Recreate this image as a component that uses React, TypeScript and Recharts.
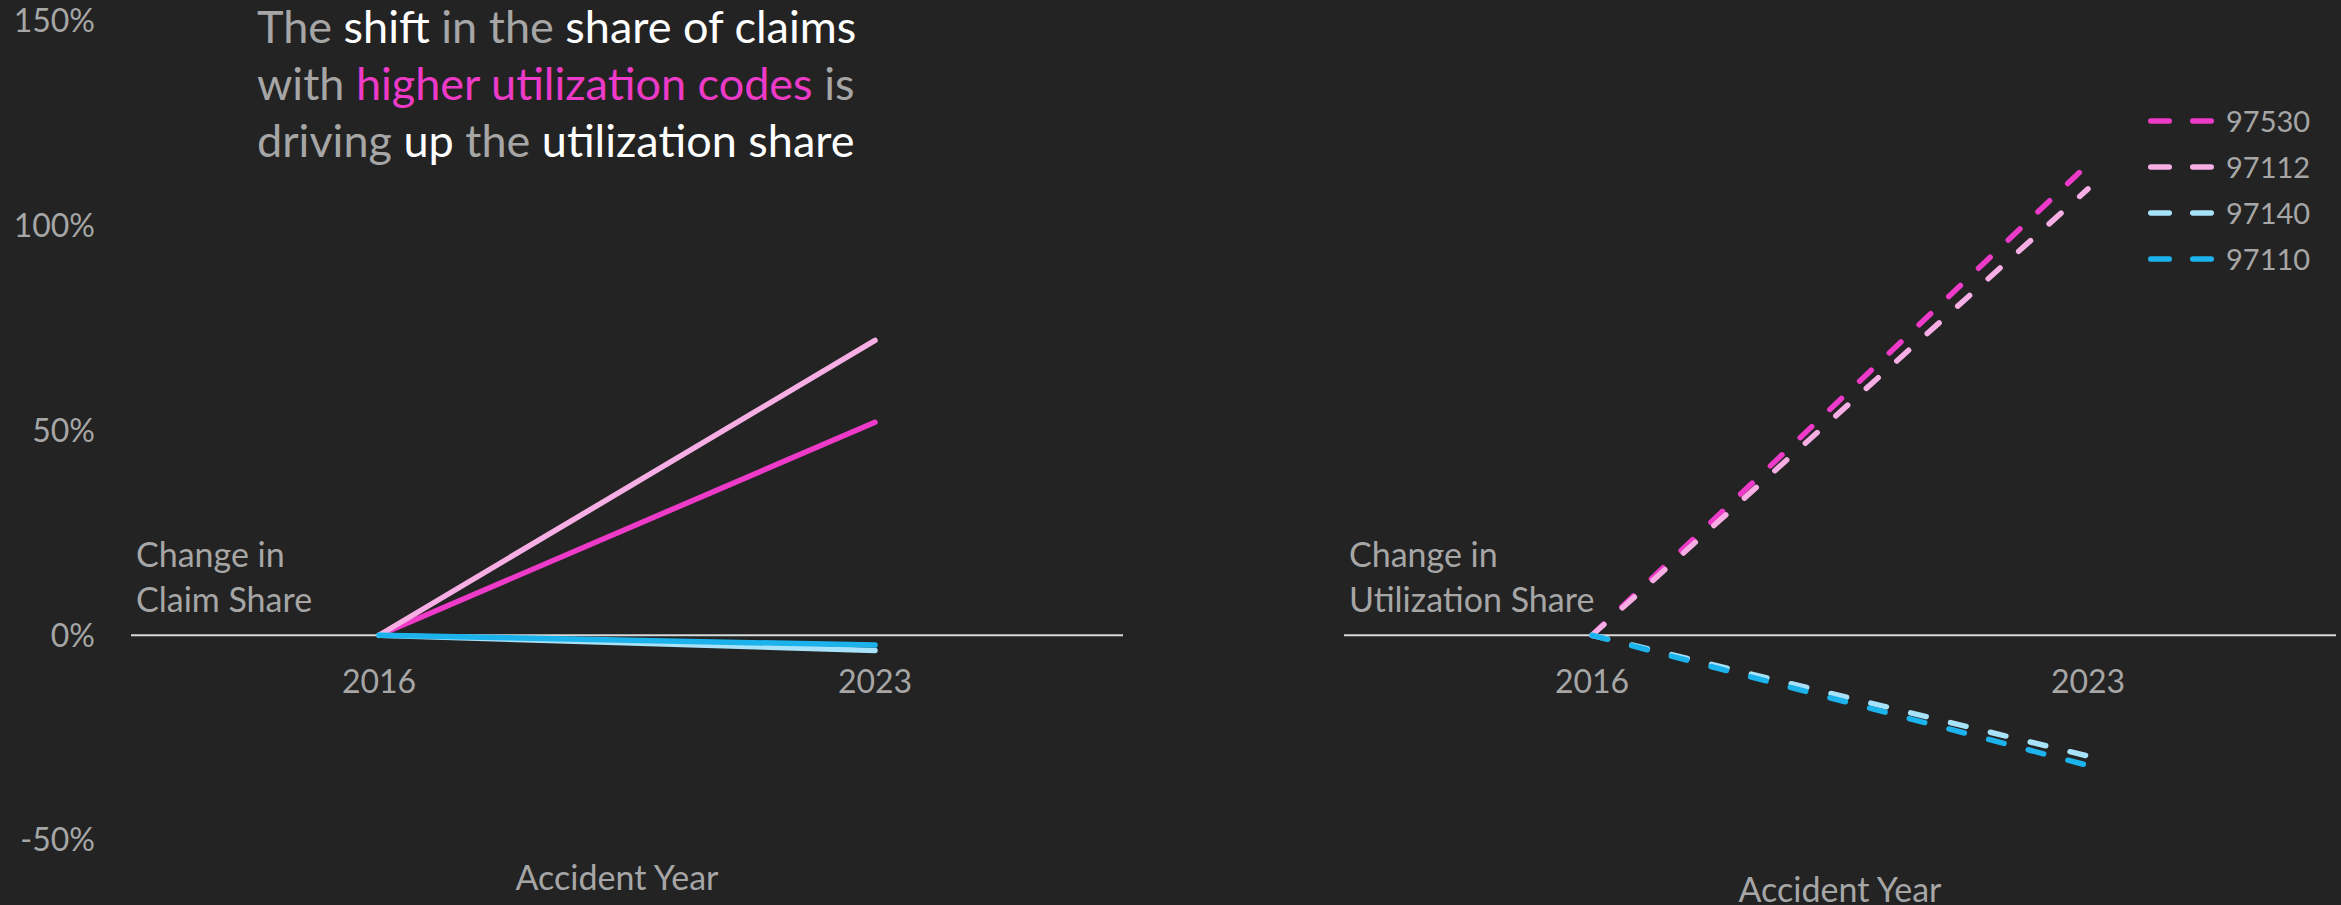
import React from 'react';
import { LineChart, Line, XAxis, YAxis, ReferenceLine, ReferenceDot, Legend, Label } from 'recharts';

// ---- data ----
const years = ['2016', '2023'];
const codes = ['97530', '97112', '97140', '97110'];

const claim97530 = [0, 52];
const claim97112 = [0, 72];
const claim97140 = [0, -3.7];
const claim97110 = [0, -2.4];

const util97530 = [0, 115];
const util97112 = [0, 109];
const util97140 = [0, -29.5];
const util97110 = [0, -31.8];

const yTicks = [-50, 0, 50, 100, 150];

const claimData = years.map((year, i) => ({
  year,
  '97530': claim97530[i],
  '97112': claim97112[i],
  '97140': claim97140[i],
  '97110': claim97110[i],
}));

const utilData = years.map((year, i) => ({
  year,
  '97530': util97530[i],
  '97112': util97112[i],
  '97140': util97140[i],
  '97110': util97110[i],
}));

// ---- styles ----
const FONT = "Lato, 'Open Sans', sans-serif";
const GRAY = '#A6A6A6';
const WHITE = '#FFFFFF';
const BG = '#232323';
const COLORS: Record<string, string> = {
  '97530': '#EE3AC8',
  '97112': '#F7AEE4',
  '97140': '#A8E2F8',
  '97110': '#1CB3EC',
};
const WORD_FS = 34;
const NUM_FS = 32;
const LEGEND_FS = 29;
const TITLE_FS = 45;

const pct = (v: number) => `${v}%`;

const yearLabel = (year: string) => (p: any) => {
  const vb = p.viewBox || {};
  const cx = (vb.x || 0) + (vb.width || 0) / 2;
  const cy = (vb.y || 0) + (vb.height || 0) / 2;
  return (
    <text x={cx} y={cy + 58} textAnchor="middle" fill={GRAY} fontSize={NUM_FS} fontFamily={FONT}>
      {year}
    </text>
  );
};

const zeroLabel = (l1: string, l2: string) => (p: any) => {
  const vb = p.viewBox || {};
  const x = (vb.x || 0) + 5;
  const y = vb.y || 0;
  return (
    <g>
      <text x={x} y={y - 68} fill={GRAY} fontSize={WORD_FS} fontFamily={FONT}>{l1}</text>
      <text x={x} y={y - 23} fill={GRAY} fontSize={WORD_FS} fontFamily={FONT}>{l2}</text>
    </g>
  );
};

const axisTitle = (dx: number, fromBottom: number) => (p: any) => {
  const vb = p.viewBox || {};
  return (
    <text
      x={(vb.x || 0) + (vb.width || 0) / 2 + dx}
      y={(vb.y || 0) + (vb.height || 0) - fromBottom}
      textAnchor="middle"
      fill={GRAY}
      fontSize={WORD_FS}
      fontFamily={FONT}
    >
      Accident Year
    </text>
  );
};

const renderLegend = () => (
  <div style={{ position: 'absolute', left: 0, top: 0, width: 220, whiteSpace: 'nowrap', fontFamily: FONT }}>
    {codes.map((c) => (
      <div key={c} style={{ display: 'flex', alignItems: 'center', height: 46 }}>
        <svg width={66} height={10} style={{ display: 'block', flexShrink: 0 }}>
          <line x1={2.75} y1={5} x2={63.25} y2={5} stroke={COLORS[c]} strokeWidth={5.5} strokeDasharray="18.5 23.5" strokeLinecap="round" />
        </svg>
        <span style={{ marginLeft: 12, fontSize: LEGEND_FS, color: GRAY, lineHeight: '46px' }}>{c}</span>
      </div>
    ))}
  </div>
);

export default function App() {
  return (
    <div style={{ position: 'absolute', left: 0, top: 0, width: 2341, height: 905, background: BG, overflow: 'hidden', fontFamily: FONT }}>
      <div style={{ position: 'absolute', left: 0, top: 0 }}>
        <LineChart width={1130} height={905} data={claimData} margin={{ top: 21, right: 7, bottom: 0, left: 0 }}>
          <XAxis dataKey="year" type="category" padding={{ left: 248, right: 248 }} axisLine={false} tickLine={false} tick={false} height={65}>
            <Label content={axisTitle(-10, 15)} />
          </XAxis>
          <YAxis
            type="number"
            domain={[-50, 150]}
            ticks={yTicks}
            interval={0}
            tickFormatter={pct}
            axisLine={false}
            tickLine={false}
            tickSize={0}
            tickMargin={36}
            width={131}
            tick={{ fill: GRAY, fontSize: NUM_FS, fontFamily: FONT }}
          />
          <ReferenceLine y={0} stroke="#D9D9D9" strokeWidth={2} label={zeroLabel('Change in', 'Claim Share')} />
          {years.map((y) => (
            <ReferenceDot key={y} x={y} y={0} r={0} fill="none" stroke="none" label={yearLabel(y)} />
          ))}
          {codes.map((c) => (
            <Line key={c} type="linear" dataKey={c} stroke={COLORS[c]} strokeWidth={5.5} strokeLinecap="round" dot={false} activeDot={false} isAnimationActive={false} />
          ))}
        </LineChart>
      </div>

      <div style={{ position: 'absolute', left: 1300, top: 0 }}>
        <LineChart width={1041} height={905} data={utilData} margin={{ top: 21, right: 5, bottom: 0, left: 44 }}>
          <XAxis dataKey="year" type="category" padding={{ left: 248, right: 248 }} axisLine={false} tickLine={false} tick={false} height={65}>
            <Label content={axisTitle(0, 3)} />
          </XAxis>
          <YAxis type="number" domain={[-50, 150]} ticks={yTicks} hide />
          <ReferenceLine y={0} stroke="#D9D9D9" strokeWidth={2} label={zeroLabel('Change in', 'Utilization Share')} />
          {years.map((y) => (
            <ReferenceDot key={y} x={y} y={0} r={0} fill="none" stroke="none" label={yearLabel(y)} />
          ))}
          {codes.map((c) => (
            <Line key={c} type="linear" dataKey={c} name={c} stroke={COLORS[c]} strokeWidth={5.5} strokeDasharray="16 25" strokeLinecap="round" dot={false} activeDot={false} isAnimationActive={false} />
          ))}
          <Legend
            layout="vertical"
            verticalAlign="top"
            align="right"
            wrapperStyle={{ top: 98, left: 848, right: 'auto', width: 0, height: 0 }}
            content={renderLegend}
          />
        </LineChart>
      </div>

      <svg width={1000} height={200} style={{ position: 'absolute', left: 0, top: 0 }}>
        <text x={257} y={43} fontSize={TITLE_FS} fontFamily={FONT} fill={GRAY}>
          <tspan>The </tspan>
          <tspan fill={WHITE}>shift</tspan>
          <tspan> in the </tspan>
          <tspan fill={WHITE}>share of claims</tspan>
        </text>
        <text x={257} y={100} fontSize={TITLE_FS} fontFamily={FONT} fill={GRAY}>
          <tspan>with </tspan>
          <tspan fill={COLORS['97530']}>higher utilization codes</tspan>
          <tspan> is</tspan>
        </text>
        <text x={257} y={157} fontSize={TITLE_FS} fontFamily={FONT} fill={GRAY}>
          <tspan>driving </tspan>
          <tspan fill={WHITE}>up</tspan>
          <tspan> the </tspan>
          <tspan fill={WHITE}>utilization share</tspan>
        </text>
      </svg>
    </div>
  );
}
